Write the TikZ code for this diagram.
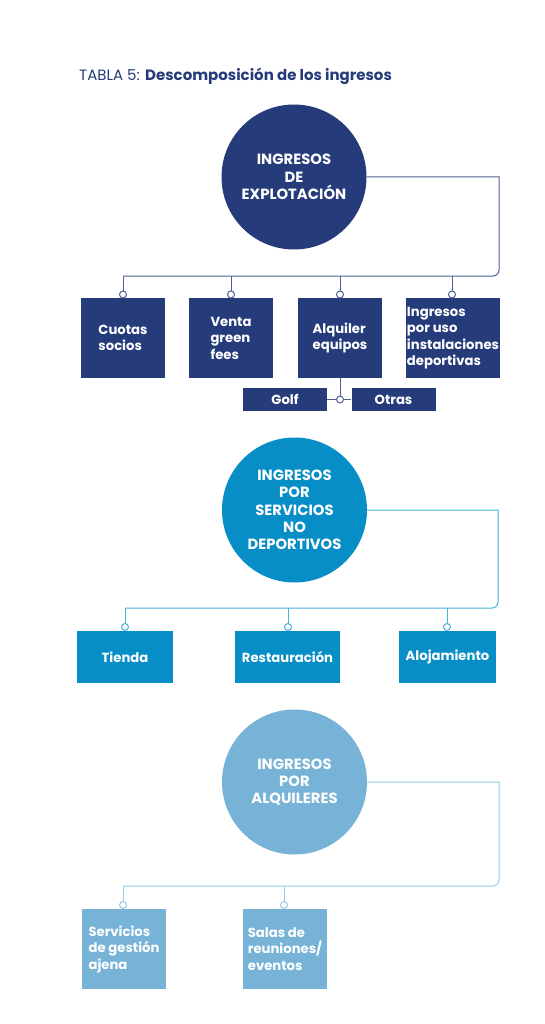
\documentclass[tikz,border=0pt]{standalone}
\usepackage{fontspec}
\setmainfont{Poppins}
\usetikzlibrary{positioning}
\definecolor{navy}{RGB}{37,59,122}
\definecolor{midblue}{RGB}{8,142,198}
\definecolor{lightblue}{RGB}{118,179,214}
\definecolor{lineA}{RGB}{80,96,150}
\definecolor{lineB}{RGB}{70,178,222}
\definecolor{lineC}{RGB}{150,204,234}
\tikzset{
  bigcirc/.style={circle, minimum size=145pt, inner sep=0pt, text=white, align=center, font=\fontsize{14.8}{17.3}\selectfont\bfseries},
  boxA/.style={rectangle, fill=navy, text=white, align=left, inner sep=0pt, font=\fontsize{13.2}{16.5}\selectfont\bfseries},
  boxB/.style={rectangle, fill=midblue, text=white, align=left, inner sep=0pt, font=\fontsize{13.2}{16.5}\selectfont\bfseries},
  boxC/.style={rectangle, fill=lightblue, text=white, align=left, inner sep=0pt, font=\fontsize{13.2}{16.5}\selectfont\bfseries},
  conn/.style={line width=1pt},
  knob/.style={circle, draw, fill=white, line width=1pt, minimum size=7pt, inner sep=0pt},
}
\begin{document}
\begin{tikzpicture}[x=1pt,y=-1pt]
\useasboundingbox (0,0) rectangle (545,1024);
\fill[white] (0,0) rectangle (545,1024);
% title
\node[anchor=west, inner sep=0pt, text=navy, font=\fontsize{15}{18}\selectfont] (title) at (79,76) {TABLA 5: \textbf{Descomposición de los ingresos}};

% ---------- section 1
\node[bigcirc, fill=navy] (c1) at (294,177) {INGRESOS\\DE\\EXPLOTACIÓN};
\node[boxA, minimum width=84pt, minimum height=80pt] (a1) at (123,338) {Cuotas\\socios};
\node[boxA, minimum width=84pt, minimum height=80pt] (a2) at (231,338) {Venta\\green\\fees};
\node[boxA, minimum width=84pt, minimum height=80pt] (a3) at (340,338) {Alquiler\\equipos};
\node[boxA, minimum width=94pt, minimum height=80pt] (a4) at (453,338) {Ingresos\\por uso\\instalaciones\\deportivas};
\node[boxA, minimum width=84pt, minimum height=23pt, align=center] (golf) at (285,399.5) {Golf};
\node[boxA, minimum width=84pt, minimum height=23pt, align=center] (otras) at (393.5,399.5) {Otras};

\coordinate (t1) at (499,177);
\coordinate (k1) at (499,276);
\coordinate (e1) at (123,276);
\draw[conn, lineA] (c1.east) -- (t1) -- ([yshift=6pt]k1) arc[start angle=0, end angle=-90, radius=6pt] -- (e1);
\node[knob, draw=lineA] (p1) at (123,294.5) {};
\node[knob, draw=lineA] (p2) at (231,294.5) {};
\node[knob, draw=lineA] (p3) at (340,294.5) {};
\node[knob, draw=lineA] (p4) at (452,294.5) {};
\draw[conn, lineA] (e1) -- (p1.north);
\draw[conn, lineA] (p2 |- e1) -- (p2.north);
\draw[conn, lineA] (p3 |- e1) -- (p3.north);
\draw[conn, lineA] (p4 |- e1) -- (p4.north);
\node[knob, draw=lineA] (pj) at (340,399.5) {};
\draw[conn, lineA] (a3.south) -- (pj.north);
\draw[conn, lineA] (golf.east) -- (pj.west);
\draw[conn, lineA] (pj.east) -- (otras.west);

% ---------- section 2
\node[bigcirc, fill=midblue] (c2) at (294.5,510) {INGRESOS\\POR\\SERVICIOS\\NO\\DEPORTIVOS};
\node[boxB, minimum width=96pt, minimum height=52pt] (b1) at (125,657) {Tienda};
\node[boxB, minimum width=105pt, minimum height=52pt] (b2) at (287.5,657) {Restauración};
\node[boxB, minimum width=97pt, minimum height=52pt] (b3) at (447.5,657) {Alojamiento};
\coordinate (t2) at (498,510);
\coordinate (k2) at (498,608);
\coordinate (e2) at (125,608);
\draw[conn, lineB] (c2.east) -- (t2) -- ([yshift=6pt]k2) arc[start angle=0, end angle=-90, radius=6pt] -- (e2);
\node[knob, draw=lineB] (q1) at (125,627) {};
\node[knob, draw=lineB] (q2) at (288,627) {};
\node[knob, draw=lineB] (q3) at (447,627) {};
\draw[conn, lineB] (e2) -- (q1.north);
\draw[conn, lineB] (q2 |- e2) -- (q2.north);
\draw[conn, lineB] (q3 |- e2) -- (q3.north);

% ---------- section 3
\node[bigcirc, fill=lightblue] (c3) at (294.5,782) {INGRESOS\\POR\\ALQUILERES};
\node[boxC, minimum width=84pt, minimum height=80pt] (s1) at (124,949) {Servicios\\de gestión\\ajena};
\node[boxC, minimum width=84pt, minimum height=80pt] (s2) at (285,949) {Salas de\\reuniones/\\eventos};
\coordinate (t3) at (499,782);
\coordinate (k3) at (499,886);
\coordinate (e3) at (123,886);
\draw[conn, lineC] (c3.east) -- (t3) -- ([yshift=6pt]k3) arc[start angle=0, end angle=-90, radius=6pt] -- (e3);
\node[knob, draw=lineC] (r1) at (123,905) {};
\node[knob, draw=lineC] (r2) at (284,905) {};
\draw[conn, lineC] (e3) -- (r1.north);
\draw[conn, lineC] (r2 |- e3) -- (r2.north);
\end{tikzpicture}
\end{document}
